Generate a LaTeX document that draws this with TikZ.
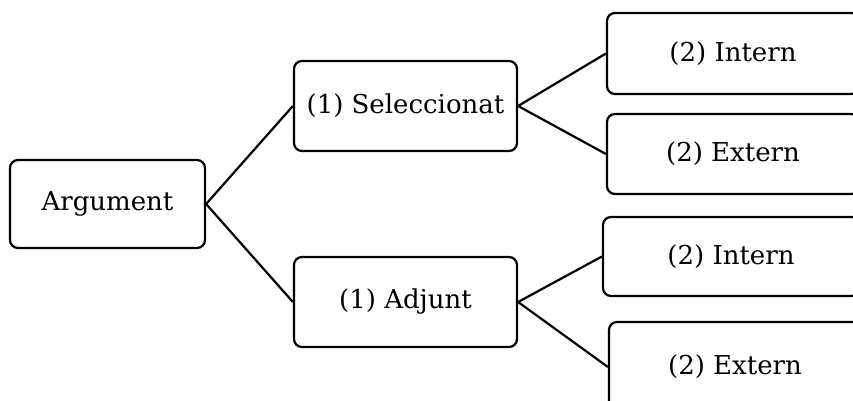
\documentclass[tikz,border=0pt]{standalone}
\usepackage{fontspec}
\setmainfont{DejaVu Serif}
\usepackage{tikz}

\tikzset{
	argbox/.style={draw, line width=1.1pt, rounded corners=4pt, align=center, font=\fontsize{13}{15}\selectfont},
}

\begin{document}
\begin{tikzpicture}[x=0.5pt, y=-0.5pt]
			\useasboundingbox (0,0) rectangle (853,401);
			\node[argbox, minimum width=97.5pt, minimum height=44pt] (arg) at (107.5,204) {Argument};
			\node[argbox, minimum width=111.5pt, minimum height=45pt] (sel) at (405.5,106) {(1) Seleccionat};
			\node[argbox, minimum width=111.5pt, minimum height=45pt] (adj) at (405.5,302) {(1) Adjunt};
			\node[argbox, minimum width=126pt, minimum height=40.5pt] (selint) at (733,53.5) {(2) Intern};
			\node[argbox, minimum width=126pt, minimum height=40pt] (selext) at (733,154) {(2) Extern};
			\node[argbox, minimum width=128pt, minimum height=39.5pt] (adjint) at (731,256.5) {(2) Intern};
			\node[argbox, minimum width=126pt, minimum height=45pt] (adjext) at (735,367) {(2) Extern};
			\draw[line width=1.1pt] (arg.east) -- (sel.west);
			\draw[line width=1.1pt] (arg.east) -- (adj.west);
			\draw[line width=1.1pt] (sel.east) -- (selint.west);
			\draw[line width=1.1pt] (sel.east) -- (selext.west);
			\draw[line width=1.1pt] (adj.east) -- (adjint.west);
			\draw[line width=1.1pt] (adj.east) -- (adjext.west);
		\end{tikzpicture}
\end{document}
